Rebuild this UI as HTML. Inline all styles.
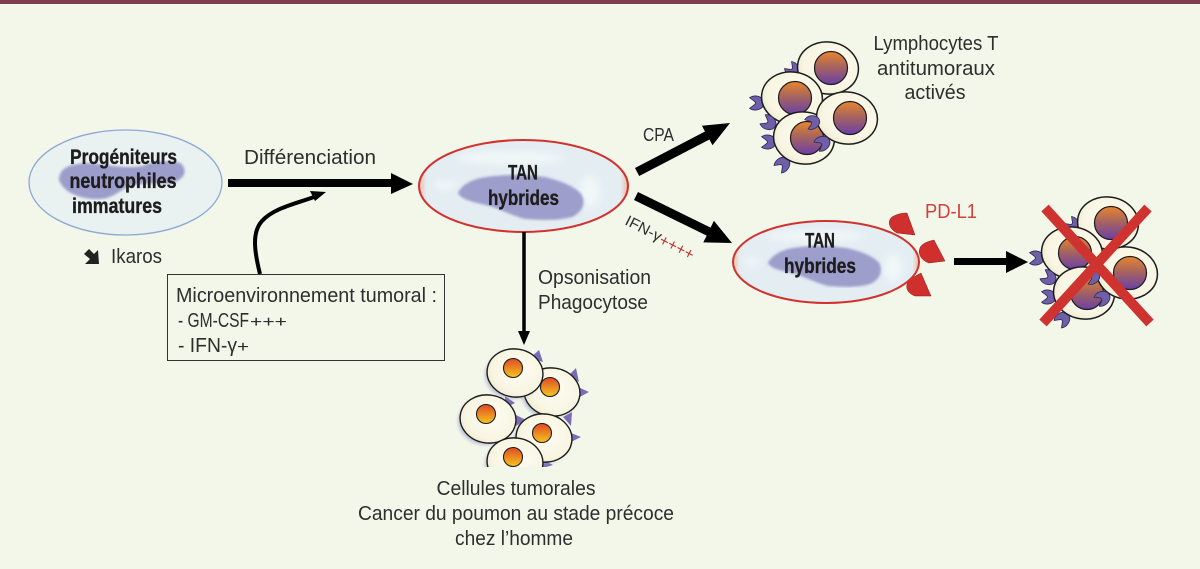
<!DOCTYPE html>
<html lang="fr">
<head>
<meta charset="utf-8">
<style>
html,body{margin:0;padding:0;background:#f2f7ea;}
svg{display:block;}
text{font-family:"Liberation Sans",sans-serif;fill:#2e2e2e;font-size:20px;}
.b{font-weight:bold;fill:#1d1d1d;font-size:21px;text-anchor:middle;stroke:#1d1d1d;stroke-width:.35px;}
</style>
</head>
<body>
<svg width="1200" height="569" viewBox="0 0 1200 569" xmlns="http://www.w3.org/2000/svg">
<defs>
<linearGradient id="nt" x1="0" y1="0" x2="0" y2="1"><stop offset="0" stop-color="#e8862c"/><stop offset=".45" stop-color="#a8655e"/><stop offset="1" stop-color="#6a3fa6"/></linearGradient>
<linearGradient id="nr" x1="0" y1="0" x2="0" y2="1"><stop offset="0" stop-color="#e04a25"/><stop offset="1" stop-color="#f5c51f"/></linearGradient>
<radialGradient id="cy" cx=".55" cy=".45" r=".65"><stop offset="0" stop-color="#fdfcf3"/><stop offset=".7" stop-color="#f8f5e2"/><stop offset="1" stop-color="#e9e4c8"/></radialGradient>
<linearGradient id="cell" x1="0" y1="0" x2="1" y2="0"><stop offset="0" stop-color="#eeb9a0"/><stop offset=".035" stop-color="#e3edf2"/><stop offset=".965" stop-color="#e3edf2"/><stop offset="1" stop-color="#eeb9a0"/></linearGradient>
<filter id="s" x="-20%" y="-20%" width="140%" height="140%"><feGaussianBlur stdDeviation="1.5"/></filter>
<filter id="w" x="-20%" y="-50%" width="140%" height="200%"><feGaussianBlur stdDeviation="4"/></filter>
<filter id="t" x="-5%" y="-5%" width="110%" height="110%"><feGaussianBlur stdDeviation="1.2"/></filter>
<path id="r" d="M-7-5C-3-8 3-7 6-3C7-1 7 1 6 3C3 7-3 8-7 5C-6 4-4 3-3 2C-1 1-1-1-3-2C-4-3-6-4-7-5Z" fill="#6f5fa8" stroke="#2f2a55" stroke-width=".8"/>
<g id="tcell">
  <ellipse cx="0" cy="0" rx="30.5" ry="26" fill="url(#cy)" stroke="#1c1c1c" stroke-width="1.5" transform="rotate(8)"/>
  <circle cx="3" cy="0" r="16.5" fill="url(#nt)" stroke="#1c1c1c" stroke-width="1.2"/>
</g>
<g id="tu">
  <ellipse cx="0" cy="0" rx="28" ry="24" fill="#9aa0c8" opacity=".6" filter="url(#s)" transform="translate(-2 2)"/>
  <ellipse cx="0" cy="0" rx="28" ry="24" fill="url(#cy)" stroke="#1c1c1c" stroke-width="1.4" transform="rotate(8)"/>
  <circle cx="-2" cy="-5" r="9.5" fill="url(#nr)" stroke="#1c1c1c" stroke-width="1.1"/>
</g>
<g id="lym">
  <use href="#r" transform="translate(793 70) rotate(45)"/>
  <use href="#tcell" x="828" y="68"/>
  <use href="#r" transform="translate(757 103) scale(1.05)"/>
  <use href="#tcell" x="792" y="98"/>
  <use href="#r" transform="translate(769 123) rotate(30) scale(1.05)"/>
  <use href="#r" transform="translate(769 142) scale(1.05)"/>
  <use href="#r" transform="translate(783 164) rotate(-45) scale(1.05)"/>
  <use href="#tcell" x="804" y="138"/>
  <use href="#tcell" x="847" y="118"/>
  <use href="#r" transform="translate(813 122) rotate(-20)"/>
  <use href="#r" transform="translate(823 143) rotate(-30) scale(1.05)"/>
</g>
<clipPath id="tclip"><rect x="440" y="330" width="170" height="137"/></clipPath>
<clipPath id="c1"><ellipse cx="523.5" cy="186" rx="104" ry="46"/></clipPath>
<clipPath id="c2"><ellipse cx="826" cy="262" rx="93" ry="41"/></clipPath>
</defs>

<rect width="1200" height="569" fill="#f2f7ea"/>
<rect width="1200" height="4" fill="#7d3f50"/>

<!-- progenitor -->
<ellipse cx="125.5" cy="182.5" rx="96.5" ry="52.5" fill="#e9f2f0" stroke="#8ea8d4" stroke-width="1.3"/>
<path d="M60 180C60 171 66 165 87 164C105 165 122 170 143 167C152 162 170 161 180 164C186 170 185 177 173 182C160 184 145 180 127 186C118 191 110 198 100 198C85 199 66 194 60 180Z" fill="#9d9dcb" stroke="#9d9dcb" stroke-width="2" filter="url(#t)"/>
<text class="b" x="123.5" y="164" textLength="107" lengthAdjust="spacingAndGlyphs">Progéniteurs</text>
<text class="b" x="123" y="188" textLength="107" lengthAdjust="spacingAndGlyphs">neutrophiles</text>
<text class="b" x="117" y="213" textLength="90" lengthAdjust="spacingAndGlyphs">immatures</text>

<!-- ikaros -->
<path d="M84 254L89 249L94 254L98 250L99 264L85 264L90 259Z" fill="#222"/>
<text x="111" y="263" textLength="51" lengthAdjust="spacingAndGlyphs">Ikaros</text>

<!-- differentiation arrow -->
<text x="244" y="164" textLength="132" lengthAdjust="spacingAndGlyphs">Différenciation</text>
<path d="M228 179H391V173L413 184L391 194V187H228Z" fill="#000"/>
<path d="M260 274C254 250 252 232 262 221C274 208 295 204 314 197" fill="none" stroke="#000" stroke-width="4"/>
<path d="M310 191L326 192L315 201Z" fill="#000"/>

<!-- box -->
<rect x="167.5" y="274.5" width="277" height="86" fill="#f2f7ea" stroke="#333" stroke-width="1"/>
<text x="176" y="302" textLength="261" lengthAdjust="spacingAndGlyphs">Microenvironnement tumoral :</text>
<text x="178" y="327" textLength="71" lengthAdjust="spacingAndGlyphs">- GM-CSF</text>
<text x="250" y="327" style="font-size:16px" textLength="37" lengthAdjust="spacingAndGlyphs">+++</text>
<text x="178" y="352" textLength="59" lengthAdjust="spacingAndGlyphs">- IFN-γ</text>
<text x="237" y="352" style="font-size:16px" textLength="12" lengthAdjust="spacingAndGlyphs">+</text>

<!-- TAN 1 -->
<ellipse cx="523.5" cy="186" rx="104.5" ry="46" fill="url(#cell)"/>
<g clip-path="url(#c1)" filter="url(#w)" fill="#f2f8f9">
  <ellipse cx="510" cy="158" rx="55" ry="6"/><ellipse cx="590" cy="192" rx="10" ry="16"/><ellipse cx="445" cy="185" rx="12" ry="4"/>
</g>
<path d="M459 193C464 183 478 178 495 177C512 175 530 176 545 178C560 182 572 186 580 194C585 202 583 210 572 216C556 220 540 219 525 218C510 214 500 208 490 205C478 202 464 200 459 193Z" fill="#9d9ecb" stroke="#9d9ecb" stroke-width="2" filter="url(#t)"/>
<ellipse cx="523.5" cy="186" rx="104.5" ry="46" fill="none" stroke="#d2322d" stroke-width="2"/>
<text class="b" x="523" y="179.5" textLength="30" lengthAdjust="spacingAndGlyphs">TAN</text>
<text class="b" x="523.5" y="205" textLength="71" lengthAdjust="spacingAndGlyphs">hybrides</text>

<!-- arrows from TAN -->
<path d="M524 232V333" stroke="#000" stroke-width="3.5" fill="none"/>
<path d="M518 331H530L524 345Z" fill="#000"/>
<text x="538" y="284" textLength="113" lengthAdjust="spacingAndGlyphs">Opsonisation</text>
<text x="538" y="309" textLength="110" lengthAdjust="spacingAndGlyphs">Phagocytose</text>

<text x="643" y="141" style="font-size:18px" textLength="31" lengthAdjust="spacingAndGlyphs">CPA</text>
<path d="M635 168L705 131.5L701.9 125.8L730 123L712.5 145.2L709.4 139.5L639.2 176Z" fill="#000"/>
<path d="M634 200L638 192L710.6 227.6L713.9 220.8L732 243L703.3 242.4L706.7 235.6Z" fill="#000"/>

<g transform="translate(624 224) rotate(27)">
<text x="0" y="0" style="font-size:15px" textLength="39" lengthAdjust="spacingAndGlyphs">IFN-γ</text>
<text x="39" y="2" style="font-size:16px;fill:#c0332f" textLength="37" lengthAdjust="spacingAndGlyphs">++++</text>
</g>

<!-- PD-L1 -->
<g fill="#cf2f2d" stroke="#8a1f1f" stroke-width=".5">
<path d="M907 213L915 235L897 233C889 229 887 221 892 217C897 214 902 213 907 213Z"/>
<path d="M934 240L945 261L929 263C920 260 917 252 921 246C925 242 930 241 934 240Z"/>
<path d="M921 273L931 296L915 296C907 293 905 287 908 282C912 278 917 275 921 273Z"/>
</g>
<text x="925" y="218" style="fill:#d2403c" textLength="52" lengthAdjust="spacingAndGlyphs">PD-L1</text>

<!-- TAN 2 -->
<ellipse cx="826" cy="262" rx="93" ry="41" fill="url(#cell)"/>
<g clip-path="url(#c2)" filter="url(#w)" fill="#f2f8f9">
  <ellipse cx="815" cy="236" rx="50" ry="5"/><ellipse cx="893" cy="268" rx="9" ry="14"/><ellipse cx="752" cy="262" rx="10" ry="4"/>
</g>
<path d="M769 263C774 254 786 249 801 248C816 246 832 247 846 249C860 252 871 256 878 263C882 270 880 278 870 283C856 287 841 286 828 285C814 281 805 276 796 273C785 270 773 269 769 263Z" fill="#9d9ecb" stroke="#9d9ecb" stroke-width="2" filter="url(#t)"/>
<ellipse cx="826" cy="262" rx="93" ry="41" fill="none" stroke="#d2322d" stroke-width="2"/>
<text class="b" x="820" y="247.5" textLength="30" lengthAdjust="spacingAndGlyphs">TAN</text>
<text class="b" x="820" y="273" textLength="72" lengthAdjust="spacingAndGlyphs">hybrides</text>

<!-- right arrow -->
<path d="M954 258H1006V251L1028 262L1006 273V265H954Z" fill="#000"/>

<!-- lymphocytes -->
<use href="#lym"/>
<text x="936" y="50" text-anchor="middle" textLength="125" lengthAdjust="spacingAndGlyphs">Lymphocytes T</text>
<text x="936" y="75" text-anchor="middle" textLength="118" lengthAdjust="spacingAndGlyphs">antitumoraux</text>
<text x="935" y="99" text-anchor="middle" textLength="61" lengthAdjust="spacingAndGlyphs">activés</text>

<!-- crossed cells -->
<use href="#lym" transform="translate(280 155)"/>
<path d="M1045 208L1150 323M1148 208L1043 323" stroke="#cf3330" stroke-width="10" fill="none"/>

<!-- tumour cells -->
<g clip-path="url(#tclip)">
  <g fill="#7b6db5">
    <path d="M530 358L539 350L543 362Z"/><path d="M568 376L576 368L579 382Z"/><path d="M578 387L589 392L578 398Z"/>
    <path d="M563 417L572 412L571 426Z"/><path d="M571 433L581 437L571 442Z"/>
    <path d="M505 396L515 403L505 408Z"/><path d="M516 415L526 420L516 426Z"/><path d="M543 460L553 465L543 468Z"/>
    <path d="M543 370L552 372L549 381Z"/>
  </g>
  <use href="#tu" x="552" y="392"/>
  <use href="#tu" x="515" y="373"/>
  <use href="#tu" x="488" y="419"/>
  <use href="#tu" x="544" y="438"/>
  <use href="#tu" x="515" y="462"/>
</g>

<text x="516" y="495" text-anchor="middle" textLength="159" lengthAdjust="spacingAndGlyphs">Cellules tumorales</text>
<text x="516" y="520" text-anchor="middle" textLength="316" lengthAdjust="spacingAndGlyphs">Cancer du poumon au stade précoce</text>
<text x="514" y="545" text-anchor="middle" textLength="118" lengthAdjust="spacingAndGlyphs">chez l’homme</text>
</svg>
</body>
</html>
